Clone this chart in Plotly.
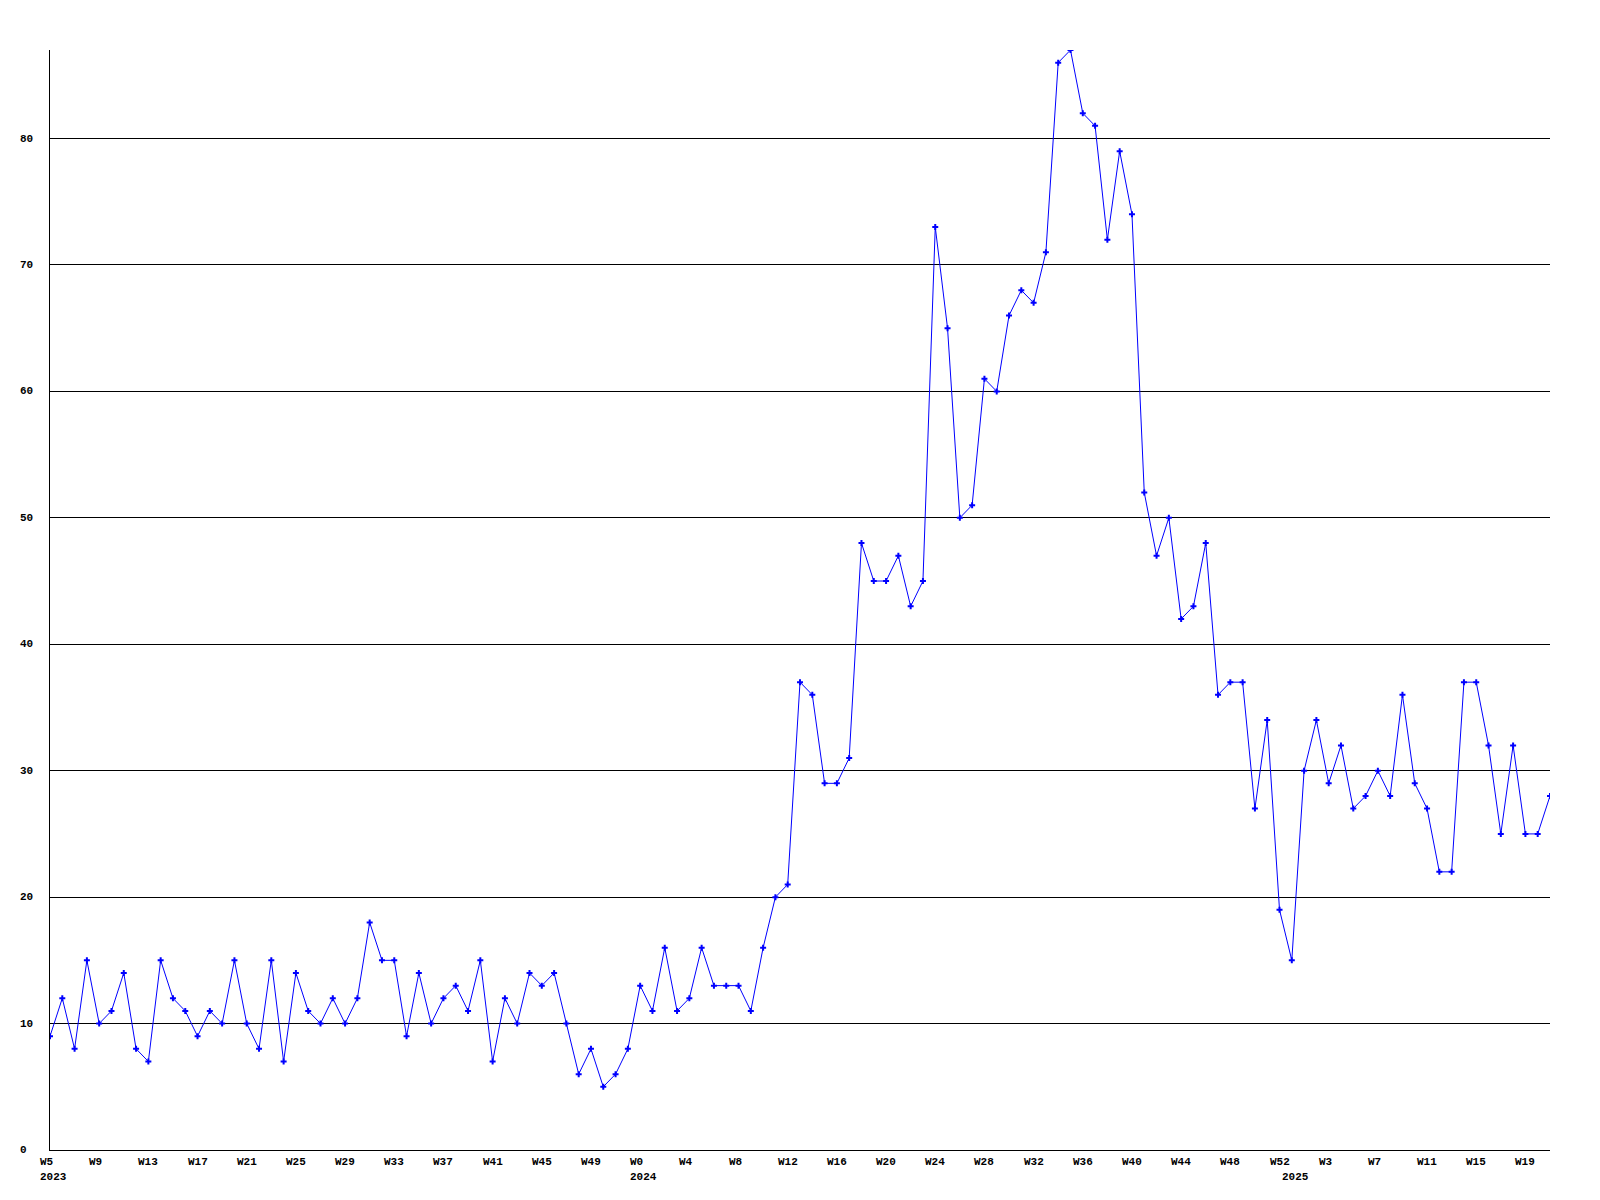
import plotly.graph_objects as go

# Weekly values, starting at W5 2023
values = [
    9, 12, 8, 15, 10, 11, 14, 8, 7, 15, 12, 11, 9, 11, 10, 15, 10, 8, 15, 7,
    14, 11, 10, 12, 10, 12, 18, 15, 15, 9, 14, 10, 12, 13, 11, 15, 7, 12, 10, 14,
    13, 14, 10, 6, 8, 5, 6, 8, 13, 11, 16, 11, 12, 16, 13, 13, 13, 11, 16, 20,
    21, 37, 36, 29, 29, 31, 48, 45, 45, 47, 43, 45, 73, 65, 50, 51, 61, 60, 66, 68,
    67, 71, 86, 87, 82, 81, 72, 79, 74, 52, 47, 50, 42, 43, 48, 36, 37, 37, 27, 34,
    19, 15, 30, 34, 29, 32, 27, 28, 30, 28, 36, 29, 27, 22, 22, 37, 37, 32, 25, 32,
    25, 25, 28,
]

week_labels = [
    "W5", "W9", "W13", "W17", "W21", "W25", "W29", "W33", "W37", "W41", "W45", "W49",
    "W0", "W4", "W8", "W12", "W16", "W20", "W24", "W28", "W32", "W36", "W40", "W44",
    "W48", "W52", "W3", "W7", "W11", "W15", "W19",
]
week_label_idx = list(range(0, 121, 4))

year_labels = ["2023", "2024", "2025"]
year_label_idx = [0, 48, 101]

y_ticks = [0, 10, 20, 30, 40, 50, 60, 70, 80]

x = list(range(len(values)))

FONT = dict(family="Liberation Mono", size=11, color="black", weight="bold")

fig = go.Figure()
fig.add_trace(go.Scatter(
    x=x, y=values, mode="lines+markers",
    line=dict(color="#0000ff", width=1),
    marker=dict(symbol="cross", size=5, color="#0000ff", line=dict(width=0)),
    showlegend=False, hoverinfo="x+y",
))

annotations = []
for lbl, idx in zip(week_labels, week_label_idx):
    annotations.append(dict(
        x=idx, xref="x", y=0, yref="paper", text=lbl, showarrow=False,
        xanchor="left", yanchor="middle", xshift=-12, yshift=-12, font=FONT,
    ))
for lbl, idx in zip(year_labels, year_label_idx):
    annotations.append(dict(
        x=idx, xref="x", y=0, yref="paper", text=lbl, showarrow=False,
        xanchor="left", yanchor="middle", xshift=-12, yshift=-27, font=FONT,
    ))
for v in y_ticks:
    annotations.append(dict(
        x=-0.02, xref="paper", y=v, yref="y", text=str(v), showarrow=False,
        xanchor="left", yanchor="middle", xshift=-2, font=FONT,
    ))

fig.update_layout(
    width=1600, height=1200,
    margin=dict(l=50, r=50, t=50, b=50),
    paper_bgcolor="white", plot_bgcolor="white",
    annotations=annotations,
    xaxis=dict(
        range=[0, 122], showgrid=False, zeroline=False, showticklabels=False,
        showline=True, linecolor="black", linewidth=1, ticks="",
    ),
    yaxis=dict(
        range=[0, 87], tick0=0, dtick=10, showgrid=True, gridcolor="black",
        gridwidth=1, zeroline=False, showticklabels=False,
        showline=True, linecolor="black", linewidth=1, ticks="",
    ),
)

fig.write_html(
    "out.html",
    config={"displayModeBar": False},
    post_script="document.body.style.margin='0';document.body.style.overflow='hidden';",
)
